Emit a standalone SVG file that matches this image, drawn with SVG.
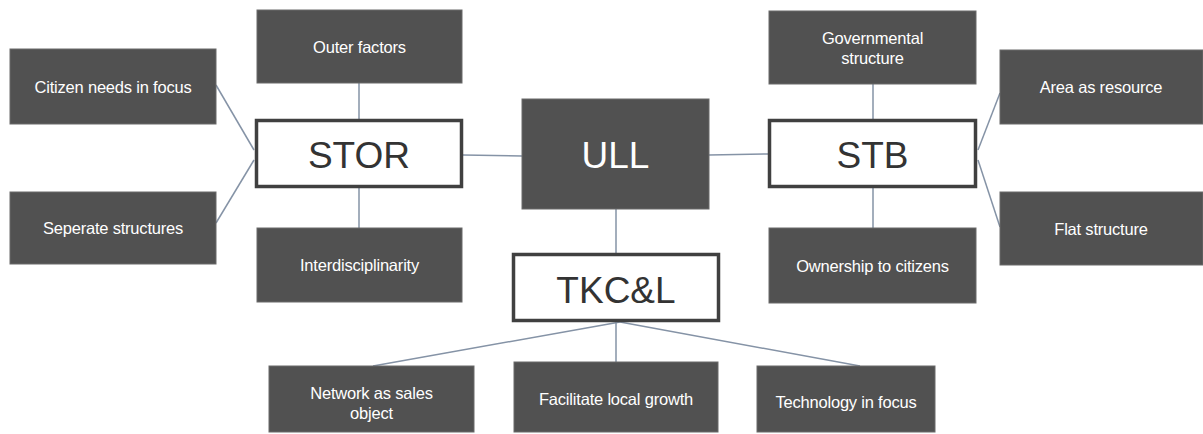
<svg xmlns="http://www.w3.org/2000/svg" width="1203" height="434" viewBox="0 0 1203 434">
<style>
.d{fill:#515151;stroke:#6a6a6a;stroke-width:1}
.w{fill:#ffffff;stroke:#404040;stroke-width:3.5}
.t{font-family:"Liberation Sans",Arial,sans-serif;font-size:16.5px;fill:#ffffff;text-anchor:middle;dominant-baseline:central;letter-spacing:-0.2px}
.b{font-family:"Liberation Sans",Arial,sans-serif;font-size:37px;fill:#333333;text-anchor:middle;dominant-baseline:central}
.c line{stroke:#8593a6;stroke-width:1.5}
</style>
<rect width="1203" height="434" fill="#ffffff"/>
<g class="c" id="connectors">
<line x1="359" y1="83" x2="359" y2="119"/>
<line x1="359" y1="188" x2="359" y2="228"/>
<line x1="216" y1="85" x2="254" y2="150"/>
<line x1="216" y1="223" x2="254" y2="160"/>
<line x1="463" y1="155" x2="522" y2="156"/>
<line x1="709" y1="155" x2="768" y2="154"/>
<line x1="616" y1="209" x2="616" y2="253"/>
<line x1="873" y1="84" x2="873" y2="119"/>
<line x1="873" y1="188" x2="873" y2="228"/>
<line x1="978" y1="150" x2="1000" y2="93"/>
<line x1="978" y1="160" x2="1000" y2="227"/>
<line x1="616" y1="322" x2="616" y2="362"/>
<line x1="620" y1="322" x2="373" y2="366"/>
<line x1="620" y1="322" x2="860" y2="366"/>
</g>
<g id="outer-factors"><rect class="d" x="257" y="10" width="205" height="73"/><text class="t" x="359.5" y="47">Outer factors</text></g>
<g id="citizen-needs"><rect class="d" x="10" y="49" width="206" height="75"/><text class="t" x="113" y="87">Citizen needs in focus</text></g>
<g id="stor"><rect class="w" x="256.5" y="120.5" width="205" height="66"/><text class="b" x="359" y="155">STOR</text></g>
<g id="seperate"><rect class="d" x="10" y="192" width="206" height="72"/><text class="t" x="113" y="228">Seperate structures</text></g>
<g id="interdisciplinarity"><rect class="d" x="257" y="228" width="205" height="74"/><text class="t" x="359.5" y="265">Interdisciplinarity</text></g>
<g id="ull"><rect class="d" x="522" y="99" width="187" height="110"/><text class="b" x="615.5" y="155" style="fill:#ffffff">ULL</text></g>
<g id="tkcl"><rect class="w" x="513.5" y="254.5" width="205" height="66"/><text class="b" x="616" y="290">TKC&amp;L</text></g>
<g id="governmental"><rect class="d" x="769" y="11" width="207" height="73"/><text class="t" x="872.5" y="38">Governmental</text><text class="t" x="872.5" y="58">structure</text></g>
<g id="stb"><rect class="w" x="769.5" y="120.5" width="206" height="66"/><text class="b" x="872.5" y="155">STB</text></g>
<g id="ownership"><rect class="d" x="769" y="228" width="207" height="75"/><text class="t" x="872.5" y="266">Ownership to citizens</text></g>
<g id="area"><rect class="d" x="1000" y="50" width="203" height="74"/><text class="t" x="1101" y="87">Area as resource</text></g>
<g id="flat"><rect class="d" x="1000" y="192" width="203" height="73"/><text class="t" x="1101" y="229">Flat structure</text></g>
<g id="network"><rect class="d" x="269" y="366" width="205" height="66"/><text class="t" x="371.5" y="393">Network as sales</text><text class="t" x="371.5" y="413">object</text></g>
<g id="facilitate"><rect class="d" x="514" y="362" width="204" height="70"/><text class="t" x="616" y="399">Facilitate local growth</text></g>
<g id="technology"><rect class="d" x="757" y="366" width="178" height="66"/><text class="t" x="846" y="402">Technology in focus</text></g>
</svg>
